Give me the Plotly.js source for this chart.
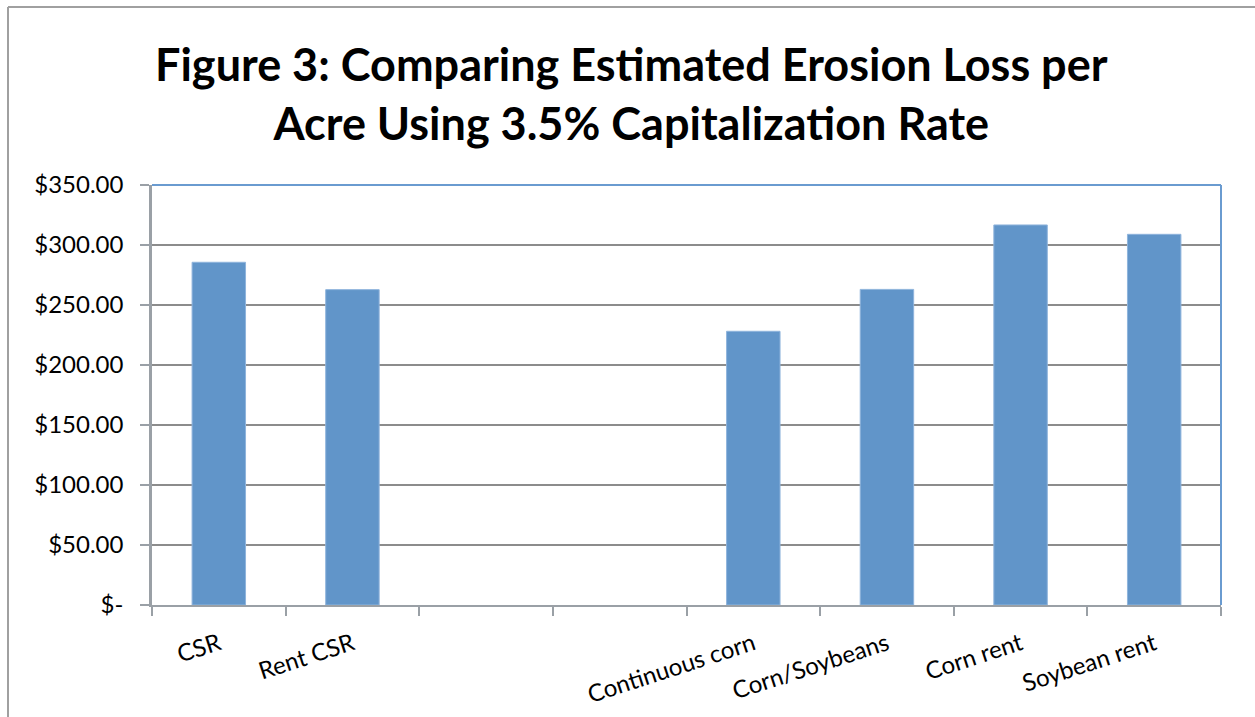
<!DOCTYPE html>
<html>
<head>
<meta charset="utf-8">
<script src="https://cdn.plot.ly/plotly-3.0.1.min.js"></script>
<style>
  html, body { margin: 0; padding: 0; background: #ffffff; }
  #chart { width: 1255px; height: 717px; }
</style>
</head>
<body>
<div id="chart"></div>
<script>
// Estimated erosion loss per acre ($), capitalised at 3.5%
const categories = ["CSR", "Rent CSR", " ", "  ", "Continuous corn", "Corn/Soybeans", "Corn rent", "Soybean rent"];
const lossPerAcre = [285.6, 262.8, null, null, 228.1, 263.0, 316.7, 308.9];

// Dollar axis ticks
const yTickValues = [0, 50, 100, 150, 200, 250, 300, 350];
const yTickLabels = ["$-", "$50.00", "$100.00", "$150.00", "$200.00", "$250.00", "$300.00", "$350.00"];

const barColor = "#6195c9";
const frameBlue = "#6a9bd0";
const gridGray = "#8c8c8c";
const axisGray = "#9aa0a6";
const font = "Lato, 'Open Sans', sans-serif";

const trace = {
  type: "bar",
  x: categories,
  y: lossPerAcre,
  marker: { color: barColor, line: { color: "#8fb4dc", width: 1 } },
  hoverinfo: "x+y"
};

const layout = {
  width: 1255,
  height: 717,
  margin: { l: 152, r: 34, t: 185, b: 112 },
  paper_bgcolor: "#ffffff",
  plot_bgcolor: "#ffffff",
  showlegend: false,
  bargap: 0.6,
  font: { family: font, color: "#000000" },
  title: {
    text: "<b>Figure 3: Comparing Estimated Erosion Loss per<br>Acre Using 3.5% Capitalization Rate</b>",
    font: { family: font, size: 45, color: "#000000" },
    x: 0.503,
    xref: "container",
    xanchor: "center",
    y: 0.887,
    yref: "container",
    yanchor: "middle"
  },
  xaxis: {
    type: "category",
    categoryorder: "array",
    categoryarray: categories,
    tickson: "boundaries",
    ticks: "outside",
    ticklen: 9,
    tickwidth: 1.5,
    tickcolor: axisGray,
    tickangle: -18,
    ticklabelstandoff: 14,
    tickfont: { family: font, size: 24, color: "#000000" },
    showline: true,
    linecolor: axisGray,
    linewidth: 2,
    showgrid: false,
    zeroline: false,
    fixedrange: true
  },
  yaxis: {
    range: [0, 350],
    tickmode: "array",
    tickvals: yTickValues,
    ticktext: yTickLabels,
    ticks: "outside",
    ticklen: 9,
    tickwidth: 1.5,
    tickcolor: axisGray,
    ticklabelstandoff: 12,
    tickfont: { family: font, size: 24, color: "#000000" },
    showline: true,
    linecolor: axisGray,
    linewidth: 2.5,
    showgrid: true,
    gridcolor: gridGray,
    gridwidth: 1.5,
    zeroline: false,
    fixedrange: true
  },
  shapes: [
    // plot-area frame: top and right edges
    { type: "line", xref: "paper", yref: "paper", x0: 0, x1: 1, y0: 1, y1: 1,
      line: { color: frameBlue, width: 2 } },
    { type: "line", xref: "paper", yref: "paper", x0: 1, x1: 1, y0: 0, y1: 1,
      line: { color: frameBlue, width: 2 } },
    // outer chart border (top and left)
    { type: "line", xref: "paper", yref: "paper",
      x0: -144 / 1069, x1: 1.04, y0: 1 + 178 / 420, y1: 1 + 178 / 420,
      line: { color: "#a0a0a0", width: 2 } },
    { type: "line", xref: "paper", yref: "paper",
      x0: -144 / 1069, x1: -144 / 1069, y0: 1 + 178 / 420, y1: -0.3,
      line: { color: "#a0a0a0", width: 2 } }
  ]
};

Plotly.newPlot("chart", [trace], layout, { displayModeBar: false, responsive: false });
</script>
</body>
</html>
